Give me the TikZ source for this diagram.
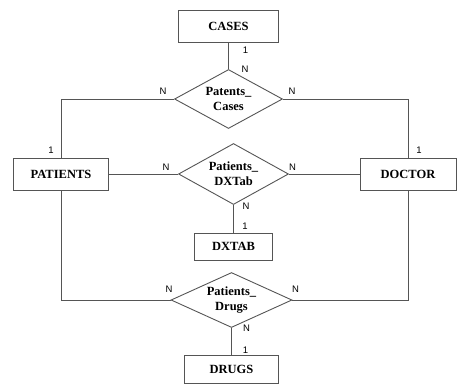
\documentclass[tikz,border=0pt]{standalone}
\usepackage{fontspec}
\setmainfont{Liberation Serif}
\newfontfamily\cardfont{Liberation Sans}
\usetikzlibrary{shapes.geometric}
\definecolor{edgegray}{HTML}{555555}
\tikzset{
  entity/.style={draw=edgegray, line width=0.9pt, fill=white, inner sep=0pt,
    font=\fontsize{12.5}{15}\selectfont\bfseries, align=center},
  relation/.style={draw=edgegray, line width=0.9pt, shape=diamond, aspect=2, inner sep=0pt,
    font=\fontsize{12.5}{15}\selectfont\bfseries, align=center},
  conn/.style={draw=edgegray, line width=0.9pt},
  card/.style={inner sep=0pt, font=\cardfont\fontsize{9.5}{10}\selectfont}
}
\begin{document}
\begin{tikzpicture}[x=1pt,y=-1pt]
\useasboundingbox (0,0) rectangle (460,384);
% entities
\node[entity, minimum width=100, minimum height=32] (cases) at (228.5,26) {CASES};
\node[entity, minimum width=95, minimum height=32] (patients) at (61,174) {PATIENTS};
\node[entity, minimum width=96, minimum height=32] (doctor) at (408,174) {DOCTOR};
\node[entity, minimum width=78, minimum height=27] (dxtab) at (233.5,246.5) {DXTAB};
\node[entity, minimum width=94, minimum height=28] (drugs) at (231.5,369) {DRUGS};
% relationships
\node[relation, minimum width=108, minimum height=59] (rel1) at (228.5,99) {Patents\_\\Cases};
\node[relation, minimum width=110, minimum height=61] (rel2) at (233.5,174) {Patients\_\\DXTab};
\node[relation, minimum width=121, minimum height=55] (rel3) at (231.5,300) {Patients\_\\Drugs};
% connectors
\draw[conn] (cases.south) -- (rel1.north);
\draw[conn] (rel1.west) -| (patients.north);
\draw[conn] (rel1.east) -| (doctor.north);
\draw[conn] (patients.east) -- (rel2.west);
\draw[conn] (rel2.east) -- (doctor.west);
\draw[conn] (rel2.south) -- (dxtab.north);
\draw[conn] (patients.south) |- (rel3.west);
\draw[conn] (doctor.south) |- (rel3.east);
\draw[conn] (rel3.south) -- (drugs.north);
% cardinalities
\node[card] (c1) at (245.5,50.5) {1};
\node[card] (c2) at (245,69.5) {N};
\node[card] (c3) at (163,91) {N};
\node[card] (c4) at (292,91) {N};
\node[card] (c5) at (51,150.5) {1};
\node[card] (c6) at (419,150.5) {1};
\node[card] (c7) at (166,167) {N};
\node[card] (c8) at (292.5,167) {N};
\node[card] (c9) at (246,206) {N};
\node[card] (c10) at (245,226) {1};
\node[card] (c11) at (169,289) {N};
\node[card] (c12) at (295.5,289) {N};
\node[card] (c13) at (246.5,328.5) {N};
\node[card] (c14) at (245.5,350) {1};
\end{tikzpicture}
\end{document}
